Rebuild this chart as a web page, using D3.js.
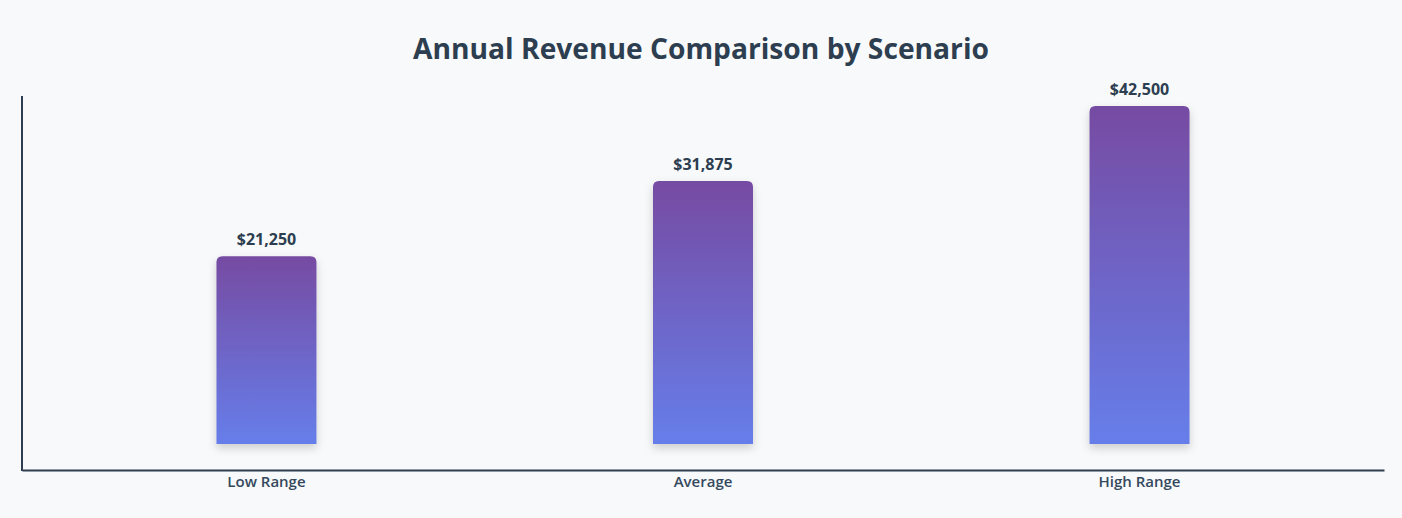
<!DOCTYPE html>
<html>
<head>
<meta charset="utf-8">
<script src="https://cdn.jsdelivr.net/npm/d3@7"></script>
<style>
  html, body { margin: 0; padding: 0; background: #f8f9fa; }
  svg { display: block; font-family: "Open Sans", "Noto Sans", sans-serif; }
</style>
</head>
<body>
<svg id="chart"></svg>
<script>
// data
const scenarios = ["Low Range", "Average", "High Range"];
const revenue = [21250, 31875, 42500];

// constants
const width = 1402;
const height = 518;
const margin = { left: 22, right: 18, top: 96, bottom: 48 };
const barWidth = 100;

const svg = d3.select('svg#chart').attr('width', width).attr('height', height)

const data = scenarios.map((s, i) => ({ name: s, value: revenue[i] }))

const defs = svg.append("defs")
const grad = defs.append("linearGradient")
    .attr("id", "barGrad")
    .attr("x1", "0%").attr("y1", "0%")
    .attr("x2", "0%").attr("y2", "100%")
grad.append("stop").attr("offset", "0%").attr("stop-color", "#764ba2")
grad.append("stop").attr("offset", "100%").attr("stop-color", "#667eea")

const shadow = defs.append("filter")
    .attr("id", "shadow")
    .attr("x", "-30%").attr("y", "-10%")
    .attr("width", "160%").attr("height", "130%")
shadow.append("feDropShadow")
    .attr("dx", 0).attr("dy", 4)
    .attr("stdDeviation", 4)
    .attr("flood-color", "#000")
    .attr("flood-opacity", 0.18)

// title
svg.append("text")
    .attr("x", width / 2)
    .attr("y", 59)
    .attr("text-anchor", "middle")
    .style("font-size", "28.2px")
    .style("font-weight", "700")
    .style("fill", "#2c3e50")
    .text("Annual Revenue Comparison by Scenario")

const axisY = height - margin.bottom // x axis line
const barBase = axisY - 26

const x = d3.scaleBand()
    .domain(scenarios)
    .range([margin.left, width - margin.right])
    .paddingInner(0.12)
    .paddingOuter(0.12)

// value scale, bars rise from barBase
const y = d3.scaleLinear()
    .domain([-5300, 43900])
    .range([barBase, margin.top])

const rad = 6
function barPath(d) {
    const x0 = x(d.name) + x.bandwidth() / 2 - barWidth / 2
    const x1 = x0 + barWidth
    const top = y(d.value)
    const bottom = y(y.domain()[0])
    return "M" + x0 + "," + bottom +
        "V" + (top + rad) +
        "Q" + x0 + "," + top + " " + (x0 + rad) + "," + top +
        "H" + (x1 - rad) +
        "Q" + x1 + "," + top + " " + x1 + "," + (top + rad) +
        "V" + bottom + "Z"
}

svg.append("g")
    .selectAll("path")
    .data(data)
    .enter().append("path")
    .attr("d", barPath)
    .attr("fill", "url(#barGrad)")
    .attr("filter", "url(#shadow)")

svg.append("g")
    .selectAll("text")
    .data(data)
    .enter().append("text")
    .attr("x", d => x(d.name) + x.bandwidth() / 2)
    .attr("y", d => y(d.value) - 11)
    .attr("text-anchor", "middle")
    .style("font-size", "16px")
    .style("font-weight", "700")
    .style("fill", "#2c3e50")
    .text(d => "$" + d3.format(",")(d.value))

// axes
const xAxis = svg.append("g")
    .attr("transform", "translate(0," + axisY + ")")
    .call(d3.axisBottom(x).tickSize(0).tickSizeOuter(0).tickPadding(6))
xAxis.select(".domain").attr("stroke", "#2c3e50").attr("stroke-width", 2)
xAxis.selectAll("text")
    .style("font-family", "'Open Sans', 'Noto Sans', sans-serif")
    .style("font-size", "15px")
    .style("font-weight", "600")
    .style("fill", "#34495e")

svg.append("line")
    .attr("x1", margin.left).attr("x2", margin.left)
    .attr("y1", margin.top).attr("y2", axisY + 1)
    .attr("stroke", "#2c3e50")
    .attr("stroke-width", 2)
</script>
</body>
</html>
